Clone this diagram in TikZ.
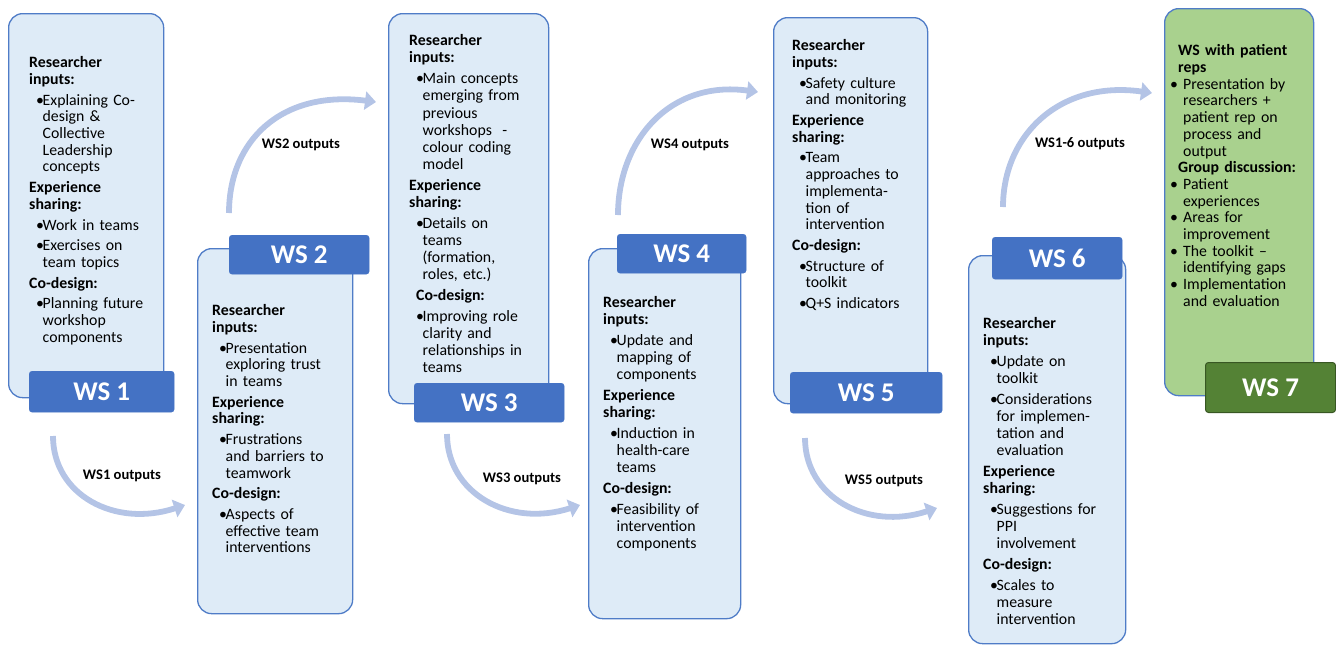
\documentclass[tikz,border=0pt]{standalone}
\usepackage{fontspec}
\setmainfont{Carlito}
\usetikzlibrary{arrows.meta}
\definecolor{boxfill}{RGB}{222,235,247}
\definecolor{boxline}{RGB}{79,124,199}
\definecolor{labfill}{RGB}{68,114,196}
\definecolor{greenfill}{RGB}{169,209,142}
\definecolor{greenlab}{RGB}{84,130,53}
\definecolor{greenlabline}{RGB}{56,87,35}
\definecolor{arrowc}{RGB}{180,196,230}
\newcommand\bu[1]{\hspace*{7pt}\makebox[6.5pt][l]{\textbullet}#1}
\newcommand\ct[1]{\hspace*{13.5pt}#1}
\newcommand\bv[1]{\hspace*{-8pt}\makebox[13pt][l]{\textbullet}#1}
\newcommand\cv[1]{\hspace*{5pt}#1}
\begin{document}
\begin{tikzpicture}[x=1pt,y=-1pt,
  wsbox/.style={draw=boxline, fill=boxfill, line width=1.3pt, rounded corners=14pt, anchor=north west, inner sep=0pt},
  greenbox/.style={wsbox, fill=greenfill},
  wslab/.style={fill=labfill, draw=labfill, rounded corners=3pt, anchor=north west, inner sep=0pt, text=white, font=\fontsize{27}{32}\selectfont\bfseries},
  greenlabel/.style={wslab, fill=greenlab, draw=greenlabline, line width=1pt},
  txt/.style={anchor=north west, inner sep=0pt, text width=200pt, align=left, font=\fontsize{15.8}{16.7}\selectfont},
  txtb/.style={txt, font=\fontsize{15.8}{17.0}\selectfont},
  txtc/.style={txt, font=\fontsize{15.8}{17.2}\selectfont},
  arr/.style={draw=arrowc, line width=5.8pt, -{Triangle[length=11pt,width=18pt]}},
  outl/.style={font=\fontsize{14.6}{17}\selectfont\bfseries, inner sep=0pt}]
\useasboundingbox (0,0) rectangle (1336,646);

% boxes
\node[wsbox, minimum width=155pt, minimum height=384pt] (b1) at (8,13) {};
\node[wsbox, minimum width=155pt, minimum height=365pt] (b2) at (197,248) {};
\node[wsbox, minimum width=160pt, minimum height=390pt] (b3) at (388,13) {};
\node[wsbox, minimum width=152pt, minimum height=370pt] (b4) at (588,248) {};
\node[wsbox, minimum width=154pt, minimum height=386pt] (b5) at (773,17) {};
\node[wsbox, minimum width=157pt, minimum height=388pt] (b6) at (968,255) {};
\node[greenbox, minimum width=149pt, minimum height=387pt] (b7) at (1164,8) {};

% labels
\node[wslab, minimum width=145pt, minimum height=41pt] (l1) at (29,371) {WS 1};
\node[wslab, minimum width=140pt, minimum height=39pt] (l2) at (229,235) {WS 2};
\node[wslab, minimum width=150pt, minimum height=39pt] (l3) at (414,383) {WS 3};
\node[wslab, minimum width=129pt, minimum height=39pt] (l4) at (617,234) {WS 4};
\node[wslab, minimum width=152pt, minimum height=41pt] (l5) at (790,372) {WS 5};
\node[wslab, minimum width=130pt, minimum height=42pt] (l6) at (992,237) {WS 6};
\node[greenlabel, minimum width=130pt, minimum height=50pt] (l7) at (1205,362) {WS 7};

% texts
\node[txt] (t1) at (29,56.5) {\textbf{Researcher}\\\textbf{inputs:}\\[4pt]
\bu{Explaining Co-}\\\ct{design \&}\\\ct{Collective}\\\ct{Leadership}\\\ct{concepts}\\[4pt]
\textbf{Experience}\\\textbf{sharing:}\\[4pt]
\bu{Work in teams}\\[4pt]
\bu{Exercises on}\\\ct{team topics}\\[4pt]
\textbf{Co-design:}\\[4pt]
\bu{Planning future}\\\ct{workshop}\\\ct{components}};

\node[txt] (t2) at (212,304.5) {\textbf{Researcher}\\\textbf{inputs:}\\[4pt]
\bu{Presentation}\\\ct{exploring trust}\\\ct{in teams}\\[4pt]
\textbf{Experience}\\\textbf{sharing:}\\[4pt]
\bu{Frustrations}\\\ct{and barriers to}\\\ct{teamwork}\\[4pt]
\textbf{Co-design:}\\[4pt]
\bu{Aspects of}\\\ct{effective team}\\\ct{interventions}};

\node[txtc] (t3) at (409,34.5) {\textbf{Researcher}\\\textbf{inputs:}\\[3.5pt]
\bu{Main concepts}\\\ct{emerging from}\\\ct{previous}\\\ct{workshops\ \ -}\\\ct{colour coding}\\\ct{model}\\[3.5pt]
\textbf{Experience}\\\textbf{sharing:}\\[3.5pt]
\bu{Details on}\\\ct{teams}\\\ct{(formation,}\\\ct{roles, etc.)}\\[3.5pt]
\hspace*{7pt}\textbf{Co-design:}\\[3.5pt]
\bu{Improving role}\\\ct{clarity and}\\\ct{relationships in}\\\ct{teams}};

\node[txtb] (t4) at (603,296.5) {\textbf{Researcher}\\\textbf{inputs:}\\[4pt]
\bu{Update and}\\\ct{mapping of}\\\ct{components}\\[4pt]
\textbf{Experience}\\\textbf{sharing:}\\[4pt]
\bu{Induction in}\\\ct{health-care}\\\ct{teams}\\[4pt]
\textbf{Co-design:}\\[4pt]
\bu{Feasibility of}\\\ct{intervention}\\\ct{components}};

\node[txt] (t5) at (792,39.5) {\textbf{Researcher}\\\textbf{inputs:}\\[4pt]
\bu{Safety culture}\\\ct{and monitoring}\\[4pt]
\textbf{Experience}\\\textbf{sharing:}\\[4pt]
\bu{Team}\\\ct{approaches to}\\\ct{implementa-}\\\ct{tion of}\\\ct{intervention}\\[4pt]
\textbf{Co-design:}\\[4pt]
\bu{Structure of}\\\ct{toolkit}\\[4pt]
\bu{Q+S indicators}};

\node[txtb] (t6) at (983,317.5) {\textbf{Researcher}\\\textbf{inputs:}\\[4pt]
\bu{Update on}\\\ct{toolkit}\\[4pt]
\bu{Considerations}\\\ct{for implemen-}\\\ct{tation and}\\\ct{evaluation}\\[4pt]
\textbf{Experience}\\\textbf{sharing:}\\[4pt]
\bu{Suggestions for}\\\ct{PPI}\\\ct{involvement}\\[4pt]
\textbf{Co-design:}\\[4pt]
\bu{Scales to}\\\ct{measure}\\\ct{intervention}};

\node[txt] (t7) at (1178,44.5) {\textbf{WS with patient}\\\textbf{reps}\\
\bv{Presentation by}\\\cv{researchers +}\\\cv{patient rep on}\\\cv{process and}\\\cv{output}\\
\textbf{Group discussion:}\\
\bv{Patient}\\\cv{experiences}\\
\bv{Areas for}\\\cv{improvement}\\
\bv{The toolkit –}\\\cv{identifying gaps}\\
\bv{Implementation}\\\cv{and evaluation}};

% connector ends
\coordinate (s1) at (53,436);   \coordinate (e1) at (185,505);
\coordinate (s2) at (229,213);  \coordinate (e2) at (376,102);
\coordinate (s3) at (447,434);  \coordinate (e3) at (580,505);
\coordinate (s4) at (618,215);  \coordinate (e4) at (758,92);
\coordinate (s5) at (805,438);  \coordinate (e5) at (937,508);
\coordinate (s6) at (1003,207); \coordinate (e6) at (1152,93);

\draw[arr] (s1) .. controls (53,495) and (115,528) .. (e1);
\draw[arr] (s2) .. controls (229,140) and (282,90) .. (e2);
\draw[arr] (s3) .. controls (447,493) and (509,528) .. (e3);
\draw[arr] (s4) .. controls (618,140) and (670,80) .. (e4);
\draw[arr] (s5) .. controls (805,497) and (867,531) .. (e5);
\draw[arr] (s6) .. controls (1003,135) and (1060,80) .. (e6);

\node[outl] (o1) at (122,476) {WS1 outputs};
\node[outl] (o2) at (301,145) {WS2 outputs};
\node[outl] (o3) at (522,479) {WS3 outputs};
\node[outl] (o4) at (690,145) {WS4 outputs};
\node[outl] (o5) at (884,481) {WS5 outputs};
\node[outl] (o6) at (1080,144) {WS1-6 outputs};
\end{tikzpicture}
\end{document}
